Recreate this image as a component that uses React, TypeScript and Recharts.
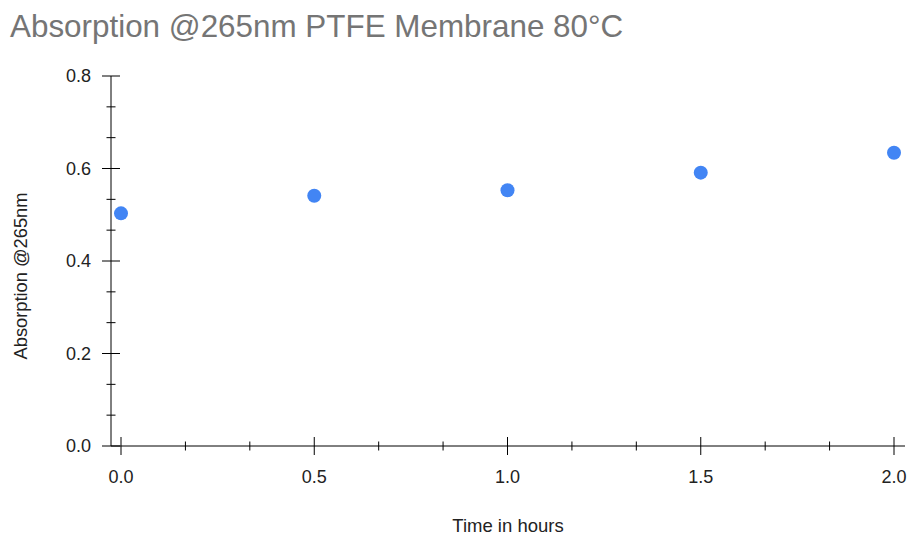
import { ScatterChart, Scatter, XAxis, YAxis, Label } from "recharts";

const hours = [0, 0.5, 1.0, 1.5, 2.0];
const absorption = [0.503, 0.541, 0.553, 0.591, 0.634];

// major ticks every 0.5 h / 0.2, two minor ticks between
const xTicks = [0, 0.1667, 0.3333, 0.5, 0.6667, 0.8333, 1, 1.1667, 1.3333, 1.5, 1.6667, 1.8333, 2];
const yTicks = [0, 0.0667, 0.1333, 0.2, 0.2667, 0.3333, 0.4, 0.4667, 0.5333, 0.6, 0.6667, 0.7333, 0.8];

const FONT = "'Liberation Sans', Arial, sans-serif";

const data = hours.map((t, i) => ({ t, a: absorption[i] }));

function isMajor(v: number, step: number) {
  const k = v / step;
  return Math.abs(k - Math.round(k)) < 1e-3;
}

function XTick({ x, y, payload }: any) {
  const major = isMajor(payload.value, 0.5);
  const len = major ? 9 : 4.5;
  return (
    <g>
      <line x1={x} x2={x} y1={y - len} y2={y + len} stroke="#000" />
      {major && (
        <text x={x} y={y + 37} textAnchor="middle" fontSize={18} fill="#222" fontFamily={FONT}>
          {payload.value.toFixed(1)}
        </text>
      )}
    </g>
  );
}

function YTick({ x, y, payload }: any) {
  const major = isMajor(payload.value, 0.2);
  const len = major ? 9 : 4.5;
  return (
    <g>
      <line x1={x - len} x2={x + len} y1={y} y2={y} stroke="#000" />
      {major && (
        <text x={x - 20} y={y} dy="0.36em" textAnchor="end" fontSize={18} fill="#222" fontFamily={FONT}>
          {payload.value.toFixed(1)}
        </text>
      )}
    </g>
  );
}

function YTitle({ viewBox }: any) {
  const cx = viewBox.x + 27;
  const cy = viewBox.y + viewBox.height / 2 + 15;
  return (
    <text
      x={cx}
      y={cy}
      transform={`rotate(-90 ${cx} ${cy})`}
      textAnchor="middle"
      fontSize={18.3}
      fill="#222"
      fontFamily={FONT}
    >
      Absorption @265nm
    </text>
  );
}

export default function App() {
  return (
    <div style={{ position: "absolute", left: 0, top: 0, width: 910, height: 535, background: "#fff" }}>
      <svg width={910} height={50} style={{ position: "absolute", left: 0, top: 0 }}>
        <text x={10} y={37} fontSize={31.4} fill="#757575" fontFamily={FONT}>
          Absorption @265nm PTFE Membrane 80°C
        </text>
      </svg>
      <ScatterChart width={910} height={535} margin={{ top: 76, right: 5, bottom: 0, left: 0 }}>
        <XAxis
          type="number"
          dataKey="t"
          domain={[0, 2]}
          ticks={xTicks}
          interval={0}
          padding={{ left: 10, right: 11 }}
          height={89}
          tickSize={0}
          tickMargin={0}
          tickLine={false}
          axisLine={{ stroke: "#000" }}
          tick={<XTick />}
        >
          <Label
            value="Time in hours"
            position="insideBottom"
            offset={3}
            style={{ fontSize: 18.5, fill: "#222", fontFamily: FONT }}
          />
        </XAxis>
        <YAxis
          type="number"
          dataKey="a"
          domain={[0, 0.8]}
          ticks={yTicks}
          interval={0}
          width={111}
          tickSize={0}
          tickMargin={0}
          tickLine={false}
          axisLine={{ stroke: "#000" }}
          tick={<YTick />}
        >
          <Label content={<YTitle />} />
        </YAxis>
        <Scatter
          data={data}
          isAnimationActive={false}
          shape={(p: any) => <circle cx={p.cx} cy={p.cy} r={7} fill="#4285F4" />}
        />
      </ScatterChart>
    </div>
  );
}
